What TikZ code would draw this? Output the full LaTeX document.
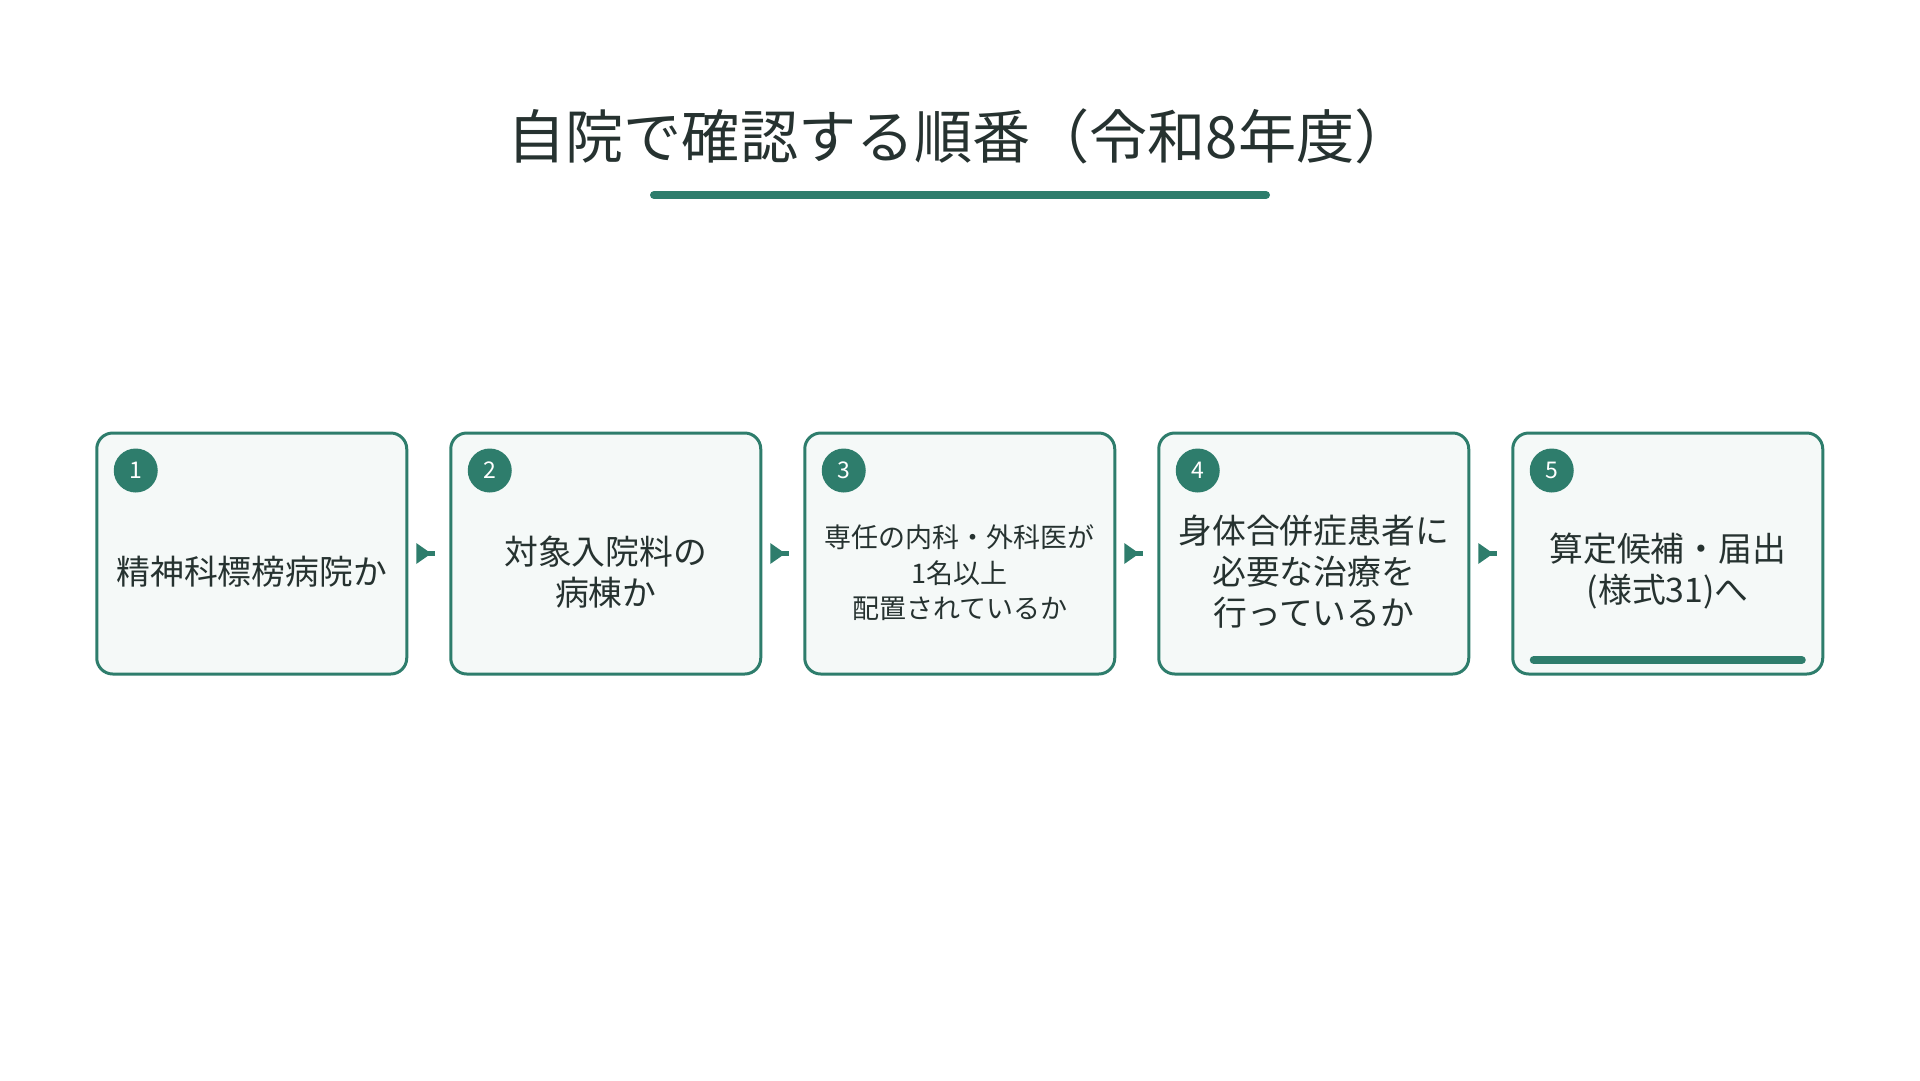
\documentclass[tikz,border=0pt]{standalone}
\usepackage{fontspec}
\setmainfont{Noto Sans CJK JP}
\usetikzlibrary{calc}
\definecolor{teal1}{HTML}{2E7D6C}
\definecolor{boxfill}{HTML}{F5F9F8}
\definecolor{ink}{HTML}{263230}
\tikzset{
  stepbox/.style={draw=teal1, fill=boxfill, line width=3pt, rounded corners=16pt,
    minimum width=310pt, minimum height=241pt, outer sep=0pt, inner sep=0pt},
  numdot/.style={circle, fill=teal1, minimum size=44pt, inner sep=0pt,
    text=white, font=\fontsize{23}{23}\selectfont},
  boxtext/.style={align=center, text=ink, font=\fontsize{33.8}{41}\selectfont},
  smalltext/.style={align=center, text=ink, font=\fontsize{27}{35.5}\selectfont},
  flowtip/.style={fill=teal1, draw=none},
  stub/.style={draw=teal1, line width=5.5pt},
  accent/.style={draw=teal1, line width=8pt, line cap=round}
}
\begin{document}
\begin{tikzpicture}[x=1pt, y=-1pt]
\useasboundingbox (0,0) rectangle (1920,1080);
% title
\node[text=ink, font=\fontsize{58.2}{58.2}\selectfont, anchor=center] (title) at (960,136) {自院で確認する順番（令和8年度）};
\coordinate (tl) at (654,195);
\coordinate (tr) at (1266,195);
\draw[accent] (tl) -- (tr);
% boxes
\foreach \i in {1,...,5} {
  \node[stepbox] (b\i) at ({251.75+354*(\i-1)},553.5) {};
  \node[numdot] (n\i) at ($(b\i.north west)+(39,37.5)$) {\i};
}
% texts
\node[boxtext] (t1) at ($(b1.center)+(0,18)$) {精神科標榜病院か};
\node[boxtext] (t2) at ($(b2.center)+(0,19)$) {対象入院料の\\病棟か};
\node[smalltext] (t3) at ($(b3.center)+(0,19.5)$) {専任の内科・外科医が\\1名以上\\配置されているか};
\node[boxtext] (t4) at ($(b4.center)+(0,18.5)$) {身体合併症患者に\\必要な治療を\\行っているか};
\node[boxtext] (t5) at ($(b5.center)+(0,17.5)$) {算定候補・届出\\(様式31)へ};
% bottom accent in box 5
\coordinate (a5l) at ($(b5.south west)+(21,-14)$);
\coordinate (a5r) at ($(b5.south east)+(-21,-14)$);
\draw[accent] (a5l) -- (a5r);
% connectors
\foreach \i/\j in {1/2,2/3,3/4,4/5} {
  \coordinate (s\i) at ($(b\i.east)+(9.5,0)$);
  \coordinate (e\i) at ($(b\i.east)+(28,0)$);
  \coordinate (k\i) at ($(b\i.east)+(19,0)$);
  \draw[stub] (k\i) -- (e\i);
  \fill[flowtip] ($(s\i)+(0,-10.5)$) -- ($(s\i)+(0,10.5)$) -- ($(s\i)+(15,0)$) -- cycle;
}
\end{tikzpicture}
\end{document}
